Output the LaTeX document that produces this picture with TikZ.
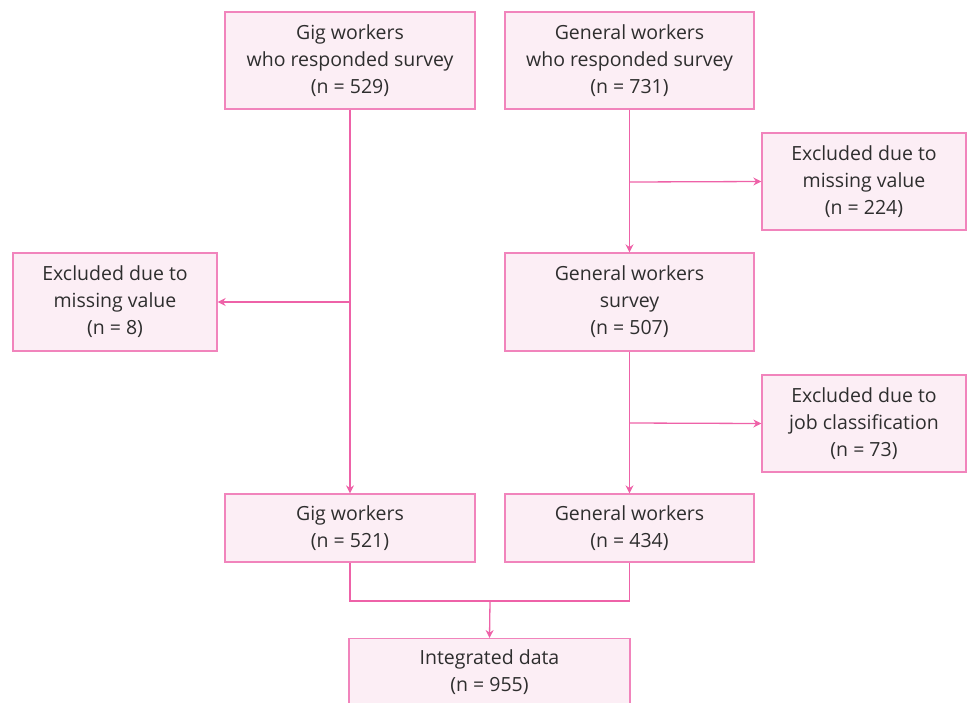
\documentclass[tikz,border=0pt]{standalone}
\usepackage{fontspec}
\setmainfont{Open Sans}
\usetikzlibrary{arrows.meta}
\definecolor{bordpink}{HTML}{F184BC}
\definecolor{fillpink}{HTML}{FCEEF5}
\definecolor{arrpink}{HTML}{EE62A8}
\definecolor{txtgray}{HTML}{2E2E2E}
\begin{document}
\begin{tikzpicture}[x=1pt,y=-1pt,
  txt/.style={text=txtgray,font=\fontsize{19.5}{27}\selectfont,align=center},
  box/.style={txt,draw=bordpink,fill=fillpink,line width=1.3pt,rectangle,inner sep=0pt},
  conn/.style={draw=arrpink,line width=1.3pt},
  arr/.style={conn,-{Stealth[length=8pt,width=8pt]}}]
\useasboundingbox (0,0) rectangle (971,702);
\clip (0,0) rectangle (971,702);
% boxes
\node[box,minimum width=250pt,minimum height=97pt] (gig0) at (350,60.5) {Gig workers\\who responded survey\\(n = 529)};
\node[box,minimum width=249pt,minimum height=97pt] (gen0) at (629.5,60.5) {General workers\\who responded survey\\(n = 731)};
\node[box,minimum width=204pt,minimum height=97pt] (ex1) at (864,181.5) {Excluded due to\\missing value\\(n = 224)};
\node[box,minimum width=249pt,minimum height=98pt] (gen1) at (629.5,302) {General workers\\survey\\(n = 507)};
\node[box,minimum width=204pt,minimum height=98pt] (exl) at (115,302) {Excluded due to\\missing value\\(n = 8)};
\node[box,minimum width=204pt,minimum height=97pt] (ex2) at (864,423.5) {Excluded due to\\job classification\\(n = 73)};
\node[box,minimum width=250pt,minimum height=68pt] (gig1) at (350,528) {Gig workers\\(n = 521)};
\node[box,minimum width=249pt,minimum height=68pt] (gen2) at (629.5,528) {General workers\\(n = 434)};
\node[box,minimum width=281pt,minimum height=100pt,anchor=north] (int) at (489.5,638) {};
\node[txt,anchor=north] (intt) at (489.5,646) {Integrated data\\(n = 955)};
% coordinates
\coordinate (b1) at (350,302);
\coordinate (b2) at (630,182);
\coordinate (b3) at (630,423);
\coordinate (m) at (490,601);
% connectors
\draw[arr] (gig0.south) -- (gig1.north);
\draw[arr] (b1) -- (exl.east);
\draw[arr] (gen0.south) -- (gen1.north);
\draw[arr] (b2) -- (ex1.west);
\draw[arr] (gen1.south) -- (gen2.north);
\draw[arr] (b3) -- (ex2.west);
\draw[conn] (gig1.south) |- (m) -| (gen2.south);
\draw[arr] (m) -- (int.north);
\end{tikzpicture}
\end{document}
